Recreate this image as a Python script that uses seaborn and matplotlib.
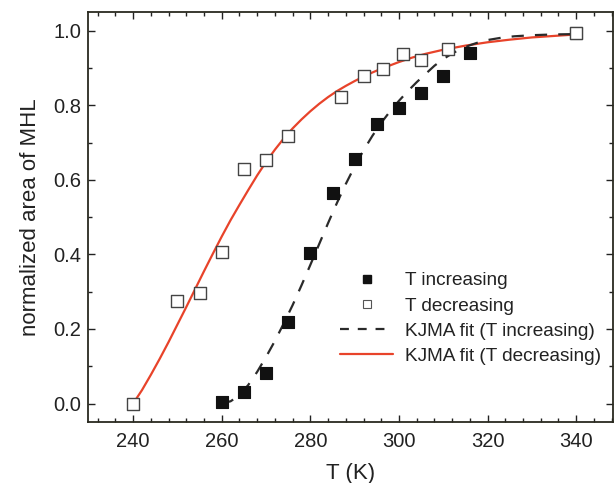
import numpy as np
import pandas as pd
import matplotlib
matplotlib.use("Agg")
import matplotlib.pyplot as plt
from matplotlib.lines import Line2D
from matplotlib.ticker import MultipleLocator
import seaborn as sns

# ---- data ----
T_inc = [260, 265, 270, 275, 280, 285, 290, 295, 300, 305, 310, 316, 340]
A_inc = [0.004, 0.030, 0.083, 0.218, 0.404, 0.566, 0.655, 0.750, 0.793, 0.834, 0.878, 0.941, 0.993]

T_dec = [240, 250, 255, 260, 265, 270, 275, 287, 292, 296.5, 301, 305, 311, 340]
A_dec = [0.000, 0.275, 0.297, 0.407, 0.628, 0.653, 0.717, 0.823, 0.878, 0.897, 0.937, 0.921, 0.950, 0.993]

# KJMA fit curves
Tfit_inc = [260, 262, 264, 266, 268, 270, 272, 274, 276, 278, 280, 282, 284, 286, 288,
            290, 292, 294, 296, 298, 300, 302, 304, 306, 308, 310, 312, 314, 316, 318,
            320, 323, 326, 330, 335, 340]
Afit_inc = [0.000, 0.006, 0.022, 0.050, 0.085, 0.125, 0.168, 0.215, 0.264, 0.317, 0.372,
            0.428, 0.484, 0.538, 0.589, 0.636, 0.679, 0.718, 0.753, 0.784, 0.812, 0.838,
            0.862, 0.884, 0.906, 0.924, 0.939, 0.951, 0.961, 0.969, 0.975, 0.981, 0.985,
            0.988, 0.990, 0.991]

Tfit_dec = [240, 242, 244, 246, 248, 250, 252, 254, 256, 258, 260, 262, 264, 266, 268,
            270, 272, 274, 276, 278, 280, 282, 284, 286, 288, 290, 292, 294, 296, 298,
            300, 303, 306, 310, 315, 320, 325, 330, 335, 340]
Afit_dec = [0.000, 0.036, 0.077, 0.120, 0.165, 0.212, 0.259, 0.307, 0.355, 0.402, 0.448,
            0.492, 0.533, 0.573, 0.612, 0.648, 0.681, 0.711, 0.738, 0.762, 0.784, 0.804,
            0.822, 0.838, 0.852, 0.865, 0.877, 0.888, 0.898, 0.907, 0.916, 0.928, 0.938,
            0.949, 0.960, 0.969, 0.976, 0.982, 0.986, 0.990]

df_inc = pd.DataFrame({"T": T_inc, "A": A_inc})
df_dec = pd.DataFrame({"T": T_dec, "A": A_dec})
fit_inc = pd.DataFrame({"T": Tfit_inc, "A": Afit_inc})
fit_dec = pd.DataFrame({"T": Tfit_dec, "A": Afit_dec})

sns.set_style("ticks")
plt.rcParams["font.family"] = ["Liberation Sans", "DejaVu Sans"]

RED = "#e8432a"
DARK = "#222222"

fig = plt.figure(figsize=(6.15, 4.83), dpi=100)
ax = fig.add_axes([0.143, 0.126, 0.853, 0.849])

sns.lineplot(data=fit_dec, x="T", y="A", ax=ax, color=RED, lw=1.6, sort=False,
             estimator=None, legend=False, zorder=2)
sns.lineplot(data=fit_inc, x="T", y="A", ax=ax, color="#2a2a2a", lw=1.6, sort=False,
             estimator=None, legend=False, zorder=2)
ax.lines[-1].set_dashes([5.5, 5])

sns.scatterplot(data=df_inc, x="T", y="A", ax=ax, marker="s", s=70, color="#111111",
                edgecolor="#111111", linewidth=0.8, legend=False, zorder=3)
sns.scatterplot(data=df_dec, x="T", y="A", ax=ax, marker="s", s=70, facecolor="white",
                edgecolor="#444444", linewidth=1.0, legend=False, zorder=4)

ax.set_xlim(229.8, 348.2)
ax.set_ylim(-0.05, 1.05)
ax.xaxis.set_minor_locator(MultipleLocator(4))
ax.yaxis.set_major_locator(MultipleLocator(0.2))
ax.yaxis.set_minor_locator(MultipleLocator(0.1))
ax.set_xticks([240, 260, 280, 300, 320, 340])
ax.set_xticklabels(["240", "260", "280", "300", "320", "340"])
ax.set_yticks([0.0, 0.2, 0.4, 0.6, 0.8, 1.0])
ax.set_yticklabels(["0.0", "0.2", "0.4", "0.6", "0.8", "1.0"])

ax.tick_params(which="both", direction="in", top=True, right=True, colors=DARK,
               labelsize=14.5, width=1.0)
ax.tick_params(which="major", length=5)
ax.tick_params(which="minor", length=3)
ax.tick_params(axis="x", which="major", pad=7)
ax.tick_params(axis="y", which="major", pad=5)
for sp in ax.spines.values():
    sp.set_color("#2a2a20")
    sp.set_linewidth(1.3)

ax.set_xlabel("T (K)", fontsize=16, color=DARK, labelpad=9)
ax.set_ylabel("normalized area of MHL", fontsize=16, color=DARK, labelpad=9)

handles = [
    Line2D([], [], ls="none", marker="s", ms=6, mfc="#111111", mec="#111111"),
    Line2D([], [], ls="none", marker="s", ms=6, mfc="white", mec="#555555", mew=0.8),
    Line2D([], [], color="#2a2a2a", lw=1.6, dashes=[4, 4]),
    Line2D([], [], color=RED, lw=1.6),
]
labels = ["T increasing", "T decreasing", "KJMA fit (T increasing)", "KJMA fit (T decreasing)"]
leg = ax.legend(handles, labels, loc="upper left", bbox_to_anchor=(0.466, 0.385),
                frameon=False, fontsize=13.7, handlelength=2.8, handletextpad=0.6,
                labelspacing=0.42, borderaxespad=0.0)
for t in leg.get_texts():
    t.set_color(DARK)

fig.savefig("out.png", dpi=100)
